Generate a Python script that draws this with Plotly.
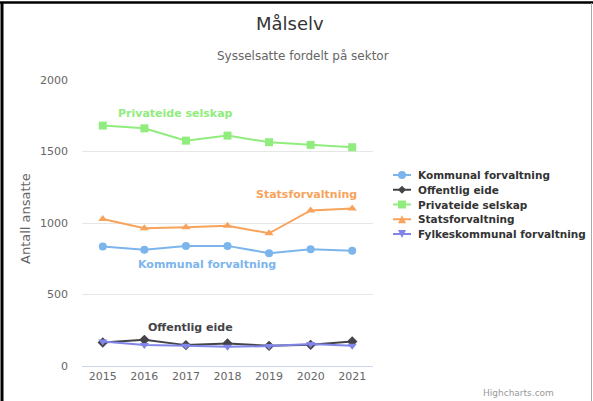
import plotly.graph_objects as go

years = ["2015", "2016", "2017", "2018", "2019", "2020", "2021"]
kommunal = [836, 813, 840, 840, 789, 817, 806]
offentlig = [164, 183, 146, 157, 141, 148, 171]
privateide = [1681, 1662, 1576, 1611, 1565, 1546, 1530]
stats = [1028, 963, 970, 981, 928, 1088, 1102]
fylkes = [171, 146, 141, 134, 139, 153, 141]

series = [
    ("Kommunal forvaltning", kommunal, "#7cb5ec", "circle"),
    ("Offentlig eide", offentlig, "#434348", "diamond"),
    ("Privateide selskap", privateide, "#90ed7d", "square"),
    ("Statsforvaltning", stats, "#f7a35c", "triangle-up"),
    ("Fylkeskommunal forvaltning", fylkes, "#8085e9", "triangle-down"),
]

FONT = "DejaVu Sans"
W, H = 593, 401
ML, MR, MT, MB = 82, 220, 80, 35
PW = W - ML - MR
PH = H - MT - MB

fig = go.Figure()
xi = list(range(len(years)))
for name, vals, col, sym in series:
    fig.add_trace(go.Scatter(
        x=xi, y=vals, name=name, mode="lines+markers",
        line=dict(color=col, width=2),
        marker=dict(color=col, symbol=sym, size=8),
        showlegend=False,
    ))

# series labels (Highcharts series-label style)
labels = [
    ("Privateide selskap", 1.76, 1769, "#90ed7d"),
    ("Statsforvaltning", 4.91, 1196, "#f7a35c"),
    ("Kommunal forvaltning", 2.5, 713, "#7cb5ec"),
    ("Offentlig eide", 2.1, 268, "#434348"),
]
for txt, lx, ly, col in labels:
    fig.add_annotation(x=lx, y=ly, xref="x", yref="y", text="<b>%s</b>" % txt,
                       xanchor="center", yanchor="middle",
                       showarrow=False, font=dict(family=FONT, size=11, color=col))


def px(v):
    return (v - ML) / PW


def py(v):
    return (H - MB - v) / PH


def ann(x, y, text, size, color, xanchor="center", angle=0):
    fig.add_annotation(x=px(x), y=py(y), xref="paper", yref="paper", text=text,
                       xanchor=xanchor, yanchor="middle", textangle=angle,
                       showarrow=False, font=dict(family=FONT, size=size, color=color))


# Title, subtitle, axis title, credits
ann(290, 24, "Målselv", 18, "#333333")
ann(303, 56, "Sysselsatte fordelt på sektor", 12, "#666666")
ann(25, 219, "Antall ansatte", 13, "#666666", angle=-90)
ann(556, 393, "Highcharts.com", 9, "#999999", xanchor="right")

# custom legend (Highcharts-like compact layout)
leg_y0, leg_dy = 175, 14.75
for i, (name, vals, col, sym) in enumerate(series):
    cy = leg_y0 + i * leg_dy
    fig.add_shape(type="line", xref="paper", yref="paper", x0=px(393), x1=px(411),
                  y0=py(cy), y1=py(cy), line=dict(color=col, width=2))
    cx, r = 402, 4
    if sym == "circle":
        fig.add_shape(type="circle", xref="paper", yref="paper", x0=px(cx - r), x1=px(cx + r),
                      y0=py(cy + r), y1=py(cy - r), fillcolor=col, line=dict(width=0))
    elif sym == "square":
        fig.add_shape(type="rect", xref="paper", yref="paper", x0=px(cx - r), x1=px(cx + r),
                      y0=py(cy + r), y1=py(cy - r), fillcolor=col, line=dict(width=0))
    else:
        if sym == "diamond":
            pts = [(cx, cy - r), (cx + r, cy), (cx, cy + r), (cx - r, cy)]
        elif sym == "triangle-up":
            pts = [(cx, cy - r), (cx + r, cy + r), (cx - r, cy + r)]
        else:
            pts = [(cx - r, cy - r), (cx + r, cy - r), (cx, cy + r)]
        path = "M " + " L ".join("%f,%f" % (px(a), py(b)) for a, b in pts) + " Z"
        fig.add_shape(type="path", xref="paper", yref="paper", path=path,
                      fillcolor=col, line=dict(width=0))
    ann(416, cy, "<b>%s</b>" % name, 10.5, "#333333", xanchor="left")

# frame of the screenshot
fig.add_shape(type="line", xref="paper", yref="paper", x0=px(0), x1=px(593), y0=py(2.5), y1=py(2.5),
              line=dict(color="#000000", width=2.5))
fig.add_shape(type="line", xref="paper", yref="paper", x0=px(2), x1=px(2), y0=py(2), y1=py(401),
              line=dict(color="#000000", width=3))
fig.add_shape(type="line", xref="paper", yref="paper", x0=px(591.5), x1=px(591.5), y0=py(3), y1=py(401),
              line=dict(color="#aaaaaa", width=1))

fig.update_layout(
    width=W, height=H,
    margin=dict(l=ML, r=MR, t=MT, b=MB),
    paper_bgcolor="white", plot_bgcolor="white",
    font=dict(family=FONT, size=11, color="#333333"),
    showlegend=False,
    xaxis=dict(range=[-0.5, 6.5], tickmode="array", tickvals=xi, ticktext=years,
               showgrid=False, zeroline=False, showline=True, linecolor="#ccd6eb",
               ticks="", tickfont=dict(family=FONT, size=11, color="#666666"), fixedrange=True),
    yaxis=dict(range=[0, 2000], tickvals=[0, 500, 1000, 1500, 2000], showgrid=True,
               gridcolor="#e6e6e6", zeroline=False, showline=False, ticks="",
               tickfont=dict(family=FONT, size=11, color="#666666"), ticklabelstandoff=13),
)

fig.write_html("out.html", config={"displayModeBar": False},
               post_script="document.body.style.margin='0';")
